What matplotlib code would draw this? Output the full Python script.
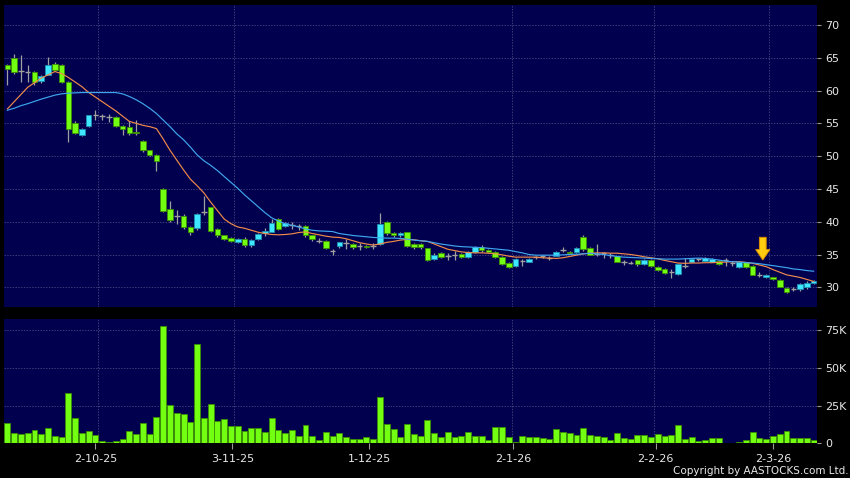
import matplotlib
matplotlib.use("Agg")
import matplotlib.pyplot as plt
import numpy as np
from matplotlib.patches import FancyArrow

# ---------------- data ----------------
opens = [63.9, 64.9, 63.0, 62.9, 62.9, 61.5, 62.4, 64.0, 63.9, 61.35,
         55.1, 53.2, 54.65, 56.3, 56.1, 56.0, 55.9, 54.6, 54.4, 53.75,
         52.3, 50.9, 50.1, 44.95, 41.9, 40.9, 40.85, 39.25, 39.0, 41.55,
         42.2, 38.95, 37.9, 37.5, 36.9, 37.4, 36.4, 37.4, 38.35, 38.5,
         40.35, 39.35, 39.5, 39.4, 39.35, 37.9, 37.1, 37.1, 35.5, 36.3,
         36.7, 36.55, 36.3, 36.3, 36.3, 36.55, 39.9, 38.25, 37.9, 38.4,
         36.55, 36.55, 35.95, 34.3, 35.3, 34.8, 35.0, 35.1, 34.6, 35.4,
         36.2, 35.7, 35.45, 34.6, 33.65, 33.25, 34.0, 33.9, 34.6, 34.7,
         34.45, 34.8, 35.7, 35.45, 35.35, 37.6, 35.95, 35.1, 35.2, 35.0,
         34.7, 33.8, 33.75, 34.1, 33.5, 34.15, 33.15, 32.75, 32.3, 32.0,
         33.3, 33.9, 34.3, 34.05, 33.9, 34.0, 34.15, 33.65, 33.15, 33.8,
         33.3, 31.9, 31.55, 31.5, 31.1, 29.95, 29.7, 29.7, 30.0, 30.6]

closes = [63.25, 62.8, 63.0, 62.9, 61.35, 62.27, 63.9, 63.1, 61.35, 54.1,
          53.6, 54.1, 56.2, 56.3, 56.1, 56.0, 54.6, 54.1, 53.6, 53.5,
          50.9, 50.2, 49.3, 41.7, 40.3, 40.9, 39.15, 38.5, 41.2, 41.55,
          38.65, 37.9, 37.4, 37.1, 37.3, 36.4, 37.2, 38.1, 38.6, 39.85,
          38.95, 39.85, 39.5, 39.4, 37.9, 37.3, 37.1, 35.95, 35.5, 36.85,
          36.7, 36.1, 36.3, 36.1, 36.3, 39.6, 38.25, 37.9, 38.25, 36.35,
          36.1, 36.1, 34.2, 35.0, 34.6, 34.8, 35.0, 34.6, 35.35, 36.2,
          35.7, 35.45, 34.6, 33.5, 33.15, 34.3, 34.0, 34.3, 34.6, 34.7,
          34.45, 35.45, 35.7, 35.2, 35.95, 35.8, 35.0, 35.1, 35.2, 35.0,
          33.9, 33.8, 33.75, 33.5, 34.1, 33.25, 32.65, 32.2, 32.3, 33.55,
          33.3, 34.3, 34.3, 34.4, 34.3, 33.5, 34.15, 33.65, 33.9, 33.15,
          31.9, 31.9, 31.9, 31.25, 30.1, 29.25, 29.7, 30.45, 30.7, 30.95]

highs = [64.0, 65.6, 65.5, 63.9, 63.0, 62.4, 65.1, 64.3, 64.0, 61.5,
         55.3, 54.3, 56.3, 57.1, 56.5, 56.4, 56.1, 54.7, 55.4, 55.5,
         52.5, 51.0, 50.3, 45.1, 43.1, 41.8, 41.2, 39.4, 41.3, 43.9,
         42.3, 39.1, 38.0, 37.7, 37.5, 37.6, 37.3, 38.3, 39.0, 40.4,
         40.5, 40.0, 40.0, 39.6, 39.5, 38.0, 37.5, 37.2, 35.8, 36.9,
         37.3, 36.7, 36.7, 36.5, 36.8, 41.4, 40.1, 38.4, 38.4, 38.5,
         36.7, 36.7, 36.0, 35.2, 35.4, 35.3, 35.6, 35.2, 35.5, 36.3,
         36.5, 35.8, 35.5, 34.7, 33.8, 34.4, 34.3, 34.4, 34.8, 34.9,
         34.7, 35.6, 36.2, 35.6, 36.1, 37.9, 36.2, 36.6, 35.4, 35.2,
         34.8, 34.2, 34.0, 34.2, 34.3, 34.3, 33.3, 32.9, 32.8, 33.7,
         34.4, 34.4, 34.5, 34.6, 34.4, 34.1, 34.4, 34.0, 34.0, 33.9,
         33.4, 32.3, 32.0, 31.6, 31.2, 30.0, 30.0, 30.7, 30.9, 31.1]

lows = [60.9, 62.6, 61.35, 61.35, 60.9, 61.1, 62.3, 63.0, 61.2, 52.2,
        53.4, 53.0, 54.5, 55.5, 55.5, 55.2, 54.4, 53.2, 53.2, 53.2,
        50.6, 50.0, 47.8, 41.5, 40.0, 39.65, 38.9, 38.0, 38.8, 41.0,
        38.5, 37.7, 37.2, 36.9, 36.7, 36.2, 36.2, 37.2, 37.8, 38.4,
        38.8, 39.2, 38.9, 38.8, 37.7, 37.1, 36.8, 35.8, 35.0, 36.0,
        35.8, 35.9, 35.7, 36.0, 35.9, 36.4, 38.0, 37.7, 37.7, 36.1,
        35.9, 35.9, 34.0, 34.1, 34.5, 34.1, 34.2, 34.5, 34.5, 35.3,
        35.4, 35.3, 34.5, 33.4, 33.0, 33.1, 33.3, 33.8, 34.3, 34.4,
        34.2, 34.7, 35.4, 35.1, 35.2, 35.6, 34.9, 34.7, 34.5, 34.5,
        33.8, 33.4, 33.5, 33.3, 33.4, 33.1, 32.5, 32.1, 31.4, 31.9,
        33.0, 33.8, 34.0, 34.0, 33.8, 33.4, 33.2, 33.3, 33.0, 33.0,
        31.8, 31.6, 31.4, 31.1, 30.0, 29.1, 29.4, 29.5, 29.8, 30.5]

ma_short = [57.2, 58.3, 59.4, 60.5, 61.2, 61.9, 62.4, 62.9, 62.6, 62.0,
            61.3, 60.6, 59.7, 59.0, 58.3, 57.6, 56.9, 56.1, 55.3, 55.0,
            54.7, 54.5, 54.2, 52.6, 50.9, 49.4, 47.9, 46.5, 45.5, 44.4,
            43.0, 41.7, 40.4, 39.7, 39.2, 39.0, 38.7, 38.4, 38.2, 38.05,
            38.0, 38.05, 38.15, 38.35, 38.45, 38.2, 38.0, 37.8, 37.65, 37.6,
            37.4, 37.1, 36.8, 36.6, 36.45, 36.6, 36.85, 37.0, 37.2, 37.3,
            37.25, 37.1, 37.0, 36.6, 36.2, 35.8, 35.6, 35.4, 35.3, 35.25,
            35.25, 35.2, 35.1, 34.95, 34.75, 34.6, 34.6, 34.6, 34.6, 34.5,
            34.45, 34.4, 34.5, 34.7, 34.9, 35.1, 35.2, 35.25, 35.25, 35.2,
            35.2, 35.1, 35.0, 34.85, 34.65, 34.5, 34.35, 34.1, 33.9, 33.7,
            33.65, 33.7, 33.7, 33.75, 33.75, 33.8, 33.85, 33.9, 33.9, 33.8,
            33.65, 33.4, 33.15, 32.7, 32.3, 31.9, 31.7, 31.5, 31.2, 30.9]

ma_long = [57.0, 57.3, 57.7, 58.0, 58.35, 58.7, 59.0, 59.3, 59.5, 59.6,
           59.65, 59.7, 59.7, 59.7, 59.7, 59.7, 59.7, 59.5, 59.1, 58.6,
           58.0, 57.3, 56.5, 55.5, 54.5, 53.4, 52.5, 51.4, 50.2, 49.3,
           48.6, 47.8, 46.9, 46.0, 45.1, 44.1, 43.2, 42.3, 41.4, 40.6,
           40.1, 39.7, 39.45, 39.2, 38.9, 38.7, 38.6, 38.55, 38.5, 38.2,
           38.05, 37.9, 37.8, 37.7, 37.6, 37.55, 37.5, 37.5, 37.45, 37.35,
           37.2, 37.1, 37.0, 36.8, 36.6, 36.45, 36.3, 36.2, 36.15, 36.1,
           36.05, 35.95, 35.85, 35.75, 35.65, 35.45, 35.25, 35.0, 34.9, 34.9,
           34.9, 34.9, 34.95, 35.0, 35.05, 35.1, 35.2, 35.1, 35.0, 34.85,
           34.7, 34.6, 34.55, 34.5, 34.45, 34.4, 34.35, 34.3, 34.3, 34.3,
           34.35, 34.4, 34.45, 34.4, 34.3, 34.15, 34.0, 33.9, 33.85, 33.75,
           33.7, 33.6, 33.45, 33.3, 33.15, 33.0, 32.8, 32.7, 32.55, 32.45]

volumes_k = [13.5, 7.1, 6.4, 7.1, 8.6, 6.4, 10.0, 4.9, 4.4, 33.4,
             16.6, 7.1, 8.2, 5.8, 1.8, 0.7, 1.8, 3.1, 8.2, 6.4,
             13.7, 6.2, 17.5, 78.1, 25.2, 20.1, 19.7, 14.4, 65.9, 17.0,
             26.1, 14.6, 16.4, 11.3, 11.3, 8.0, 10.0, 10.0, 7.3, 17.0,
             9.1, 6.9, 8.6, 5.1, 12.2, 5.1, 2.4, 7.5, 4.9, 6.6,
             4.4, 2.7, 3.1, 4.0, 3.1, 30.8, 13.1, 9.5, 4.2, 13.1,
             6.1, 4.9, 15.7, 6.6, 4.4, 7.5, 4.0, 4.6, 7.5, 4.9,
             5.1, 2.2, 11.1, 10.8, 4.0, 0.7, 5.1, 4.2, 4.0, 3.5,
             2.7, 9.3, 7.3, 7.1, 5.5, 10.4, 5.3, 4.9, 4.2, 2.2,
             7.1, 3.8, 2.7, 5.5, 5.5, 4.2, 6.4, 5.1, 5.5, 12.2,
             3.1, 4.2, 1.8, 2.4, 3.5, 3.5, 0.1, 0.4, 1.1, 2.4,
             7.3, 3.8, 3.1, 5.1, 6.2, 8.0, 3.5, 3.8, 3.8, 2.0]

xtick_labels = ["2-10-25", "3-11-25", "1-12-25", "2-1-26", "2-2-26", "2-3-26"]
xtick_pos = [13.0, 33.2, 53.4, 74.7, 95.7, 113.0]
xgrid_pos = [13.4, 33.5, 53.4, 74.5, 95.5, 112.4]
price_ticks = [30, 35, 40, 45, 50, 55, 60, 65, 70]
vol_ticks = [0, 25, 50, 75]
vol_tick_labels = ["0", "25K", "50K", "75K"]
arrow_index = 111.5
arrow_top, arrow_tip = 37.62, 34.16

# ---------------- style ----------------
BG = "#000000"
PANEL = "#00004e"
GRID = "#55558c"
TXT = "#e8e8e8"
GREEN = "#72ff12"
GREEN_EDGE = "#3c8f00"
CYAN = "#3fe6ff"
CYAN_EDGE = "#1d8fb0"
WICK = "#a0a0a0"

W, H = 850, 478
fig = plt.figure(figsize=(W / 100, H / 100), dpi=100, facecolor=BG)
ax1 = fig.add_axes([4 / W, 1 - 306.7 / H, 813 / W, 301.7 / H])
ax2 = fig.add_axes([4 / W, 1 - 443.3 / H, 813 / W, 124.3 / H])

x = np.arange(len(opens))
o = np.array(opens); c = np.array(closes)
h = np.array(highs); l = np.array(lows)
up = c > o
dn = c < o
flat = c == o

for ax in (ax1, ax2):
    ax.set_facecolor(PANEL)
    for s in ax.spines.values():
        s.set_visible(False)
    ax.yaxis.tick_right()
    ax.tick_params(axis="y", colors="#9a9a9a", labelcolor=TXT, length=3,
                   width=0.8, pad=3, labelsize=8)
    ax.set_xlim(-0.5, 119.5)
    ax.set_xticks(xgrid_pos, minor=True)
    ax.grid(True, which="minor", axis="x", color=GRID, lw=0.5, ls=(0, (2, 2)))
    ax.grid(True, which="major", axis="y", color=GRID, lw=0.5, ls=(0, (2, 2)))
    ax.tick_params(axis="x", which="minor", length=0)
    ax.set_axisbelow(True)

# candles
ax1.vlines(x, l, h, color=WICK, lw=0.9, zorder=2)
ax1.bar(x[up], (c - o)[up], bottom=o[up], width=0.82, color=CYAN,
        edgecolor=CYAN_EDGE, lw=0.6, zorder=3)
ax1.bar(x[dn], (o - c)[dn], bottom=c[dn], width=0.82, color=GREEN,
        edgecolor=GREEN_EDGE, lw=0.6, zorder=3)
ax1.hlines(c[flat], x[flat] - 0.41, x[flat] + 0.41, color=WICK, lw=1.0, zorder=3)

ax1.plot(x, ma_short, color="#f08a4a", lw=0.85, zorder=4)
ax1.plot(x, ma_long, color="#3fa6ee", lw=0.85, zorder=4)

ax1.add_patch(FancyArrow(arrow_index, arrow_top, 0, arrow_tip - arrow_top,
                         width=1.0, head_width=2.1, head_length=1.6,
                         length_includes_head=True, fc="#ffcc10",
                         ec="#d98c00", lw=0.7, zorder=6))

ax1.set_ylim(27.04, 73.05)
ax1.set_yticks(price_ticks)
ax1.set_yticklabels([str(v) for v in price_ticks])
ax1.set_xticks(xtick_pos)
ax1.tick_params(axis="x", which="major", length=0, labelbottom=False)

# volume
ax2.bar(x, volumes_k, width=0.88, color=GREEN, edgecolor=GREEN_EDGE, lw=0.6,
        zorder=3)
ax2.set_ylim(0, 82.6)
ax2.set_yticks(vol_ticks)
ax2.set_yticklabels(vol_tick_labels)
ax2.set_xticks(xtick_pos)
ax2.set_xticklabels(xtick_labels)
ax2.tick_params(axis="x", which="major", colors="#9a9a9a", labelcolor=TXT,
                length=4, width=0.8, pad=4, labelsize=8)

fig.text(0.998, 1 - 471.5 / H, "Copyright by AASTOCKS.com Ltd.", ha="right",
         va="center", color=TXT, fontsize=7.5)

fig.savefig("out.png", dpi=100, facecolor=BG)
